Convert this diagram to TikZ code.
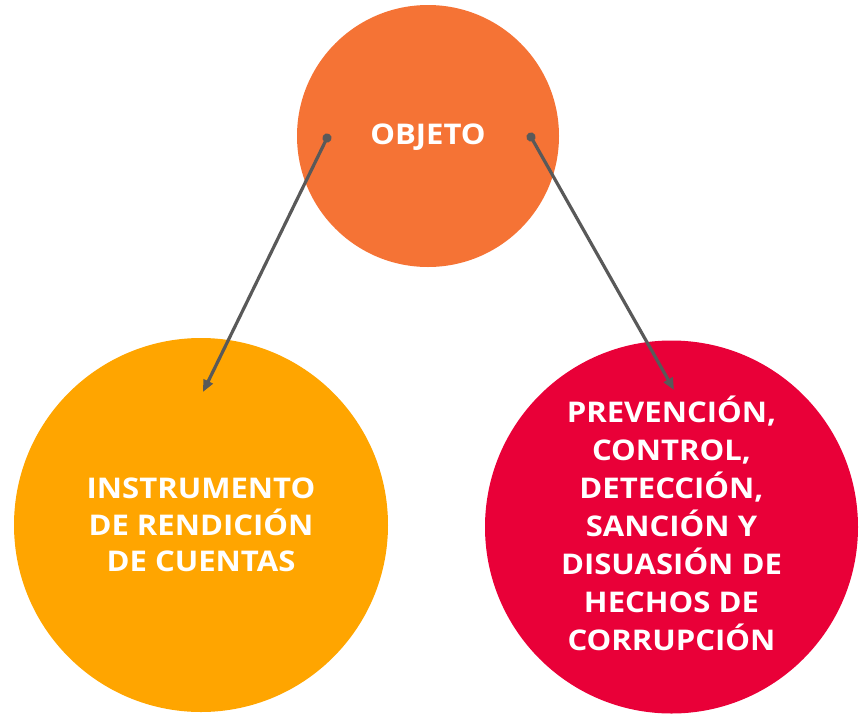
\documentclass[tikz,border=0pt]{standalone}
\usepackage{fontspec}
\setmainfont{Open Sans}[FakeStretch=1.09]
\usetikzlibrary{arrows.meta}
\definecolor{corange}{HTML}{F57335}
\definecolor{cyellow}{HTML}{FFA500}
\definecolor{cred}{HTML}{E90038}
\definecolor{cline}{HTML}{595959}
\begin{document}
\begin{tikzpicture}[x=1pt,y=-1pt,
  circ/.style={circle,inner sep=0pt,text=white,font=\bfseries\fontsize{28.5}{36.5}\selectfont,align=center},
  conn/.style={draw=cline,line width=3.2pt,{Circle[length=9pt]}-{Triangle[length=12pt,width=10pt]},shorten <=-4.5pt}
]
\useasboundingbox (0,0) rectangle (863,713);
\node[circ,fill=corange,minimum size=262pt] (obj) at (428,136) {};
\node[circ] (objt) at (428,137) {OBJETO};
\node[circ,fill=cyellow,minimum size=374pt] (inst) at (201,525) {INSTRUMENTO\\DE RENDICIÓN\\DE CUENTAS};
\node[circ,fill=cred,minimum size=373pt] (prev) at (671.5,527) {};
\node[circ,font=\bfseries\fontsize{28.5}{38}\selectfont] (prevt) at (671.5,523) {PREVENCIÓN,\\CONTROL,\\DETECCIÓN,\\SANCIÓN Y\\DISUASIÓN DE\\HECHOS DE\\CORRUPCIÓN};
\coordinate (s1) at (327,138);
\coordinate (e1) at (203,392);
\coordinate (s2) at (531,137);
\coordinate (e2) at (674,390);
\draw[conn] (s1) -- (e1);
\draw[conn] (s2) -- (e2);
\end{tikzpicture}
\end{document}
